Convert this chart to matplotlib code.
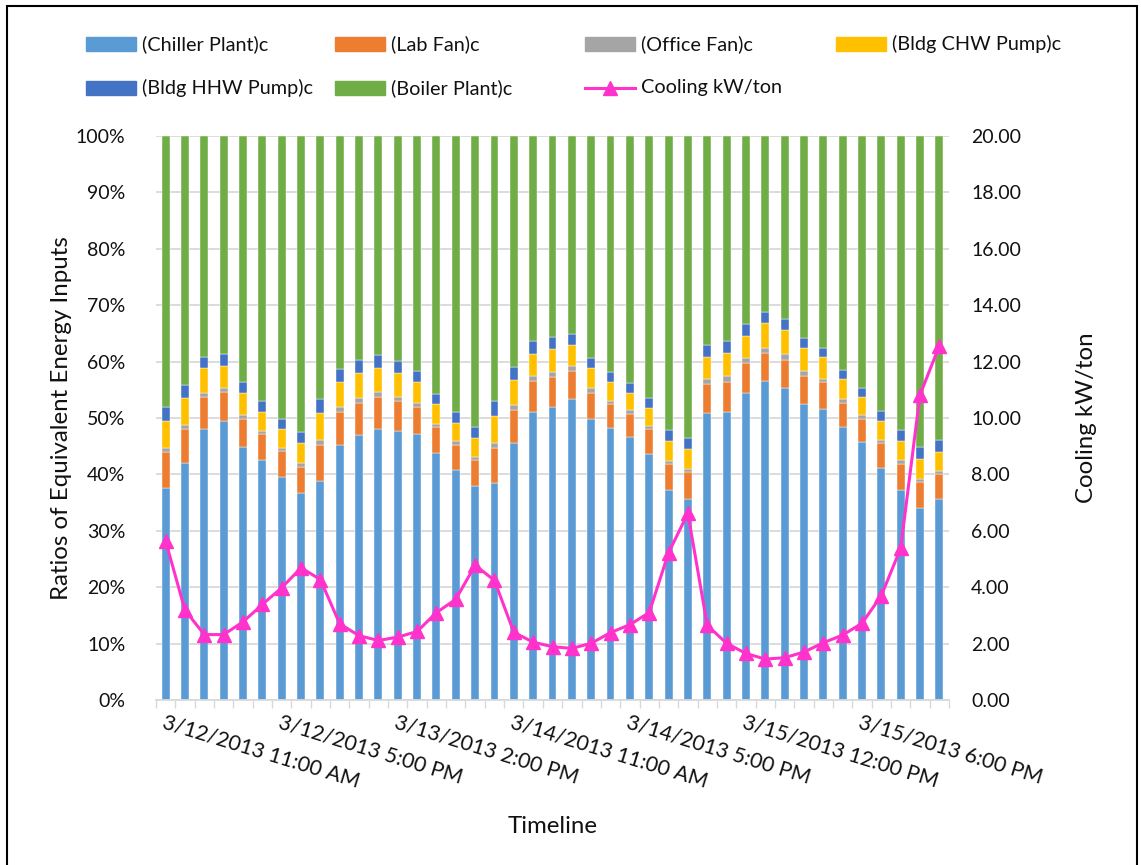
import numpy as np
import matplotlib
matplotlib.use("Agg")
import matplotlib.pyplot as plt
from matplotlib.patches import Rectangle
from matplotlib.lines import Line2D

plt.rcParams['font.family'] = ['Lato', 'DejaVu Sans']

# shares of equivalent energy inputs (%) per hourly interval
chiller = [37.6, 42.0, 48.0, 49.4, 44.9, 42.5, 39.5, 36.7, 38.9, 45.2, 47.0, 48.0, 47.7, 47.1,
           43.8, 40.8, 37.9, 38.4, 45.6, 51.1, 52.0, 53.4, 49.8, 48.2, 46.6, 43.6, 37.3, 35.7,
           50.8, 51.0, 54.4, 56.6, 55.4, 52.4, 51.6, 48.4, 45.7, 41.1, 37.3, 34.0, 35.7]
lab_fan = [6.3, 6.0, 5.7, 5.2, 5.0, 4.6, 4.6, 4.7, 6.4, 5.8, 5.7, 5.7, 5.3, 4.9,
           4.6, 4.5, 4.6, 6.3, 5.8, 5.4, 5.3, 4.9, 4.6, 4.2, 4.1, 4.4, 4.6, 4.7,
           5.2, 5.4, 5.3, 4.9, 4.9, 5.0, 4.7, 4.3, 4.2, 4.5, 4.6, 4.7, 4.4]
office_fan = [0.8, 0.8, 0.8, 0.8, 0.7, 0.6, 0.5, 0.6, 0.8, 0.9, 0.9, 0.9, 0.8, 0.7,
              0.6, 0.6, 0.5, 0.9, 0.9, 0.9, 0.9, 0.9, 0.9, 0.7, 0.7, 0.5, 0.5, 0.5,
              0.9, 1.0, 0.9, 1.0, 1.0, 0.9, 0.7, 0.7, 0.6, 0.5, 0.6, 0.5, 0.5]
chw_pump = [4.7, 4.7, 4.3, 3.9, 3.8, 3.4, 3.5, 3.5, 4.7, 4.4, 4.3, 4.3, 4.2, 3.6,
            3.4, 3.3, 3.5, 4.8, 4.4, 4.0, 4.0, 3.7, 3.5, 3.3, 3.1, 3.3, 3.5, 3.6,
            4.0, 4.1, 3.9, 4.3, 4.3, 4.1, 3.9, 3.5, 3.2, 3.4, 3.4, 3.5, 3.4]
hhw_pump = [2.5, 2.4, 2.1, 2.1, 2.0, 1.9, 1.8, 2.0, 2.6, 2.4, 2.3, 2.3, 2.1, 2.0,
            1.8, 1.9, 1.9, 2.6, 2.4, 2.2, 2.1, 2.0, 1.9, 1.7, 1.7, 1.7, 1.9, 1.9,
            2.1, 2.2, 2.1, 2.0, 1.9, 1.8, 1.6, 1.6, 1.7, 1.7, 1.9, 2.2, 2.1]
boiler = [48.1, 44.1, 39.1, 38.6, 43.6, 47.0, 50.1, 52.5, 46.6, 41.3, 39.8, 38.8, 39.9, 41.7,
          45.8, 48.9, 51.6, 47.0, 40.9, 36.4, 35.7, 35.1, 39.3, 41.9, 43.8, 46.5, 52.2, 53.6,
          37.0, 36.3, 33.4, 31.2, 32.5, 35.8, 37.5, 41.5, 44.6, 48.8, 52.2, 55.1, 53.9]

cooling_kw_ton = [5.63, 3.18, 2.32, 2.32, 2.77, 3.39, 3.98, 4.69, 4.27, 2.70, 2.28, 2.11, 2.23, 2.43,
                  3.10, 3.57, 4.78, 4.24, 2.40, 2.05, 1.89, 1.83, 2.01, 2.39, 2.67, 3.10, 5.22, 6.62,
                  2.65, 2.01, 1.65, 1.45, 1.50, 1.70, 2.03, 2.30, 2.72, 3.70, 5.38, 10.82, 12.56]

tick_labels = ["3/12/2013 11:00 AM", "3/12/2013 5:00 PM", "3/13/2013 2:00 PM",
               "3/14/2013 11:00 AM", "3/14/2013 5:00 PM", "3/15/2013 12:00 PM",
               "3/15/2013 6:00 PM"]
tick_every = 6

series = [("(Chiller Plant)c", chiller, "#5B9BD5"),
          ("(Lab Fan)c", lab_fan, "#ED7D31"),
          ("(Office Fan)c", office_fan, "#A5A5A5"),
          ("(Bldg CHW Pump)c", chw_pump, "#FFC000"),
          ("(Bldg HHW Pump)c", hhw_pump, "#4472C4"),
          ("(Boiler Plant)c", boiler, "#70AD47")]
line_color = "#FF33CC"
grid_color = "#D9D9D9"
text_color = "#111111"

W, H = 1141, 865
fig = plt.figure(figsize=(W / 100, H / 100), dpi=100)
ax = fig.add_axes([156 / W, 1 - 700 / H, (949 - 156) / W, (700 - 136) / H])

x = np.arange(len(chiller))
bottom = np.zeros(len(x))
for name, vals, color in series:
    vals = np.array(vals) / 100.0
    ax.bar(x, vals, width=0.41, bottom=bottom, color=color, edgecolor="white",
           linewidth=0.3, zorder=2)
    bottom += vals

ax.set_xlim(-0.5, len(x) - 0.5)
ax.set_ylim(0, 1)
ax.set_yticks(np.arange(0, 1.01, 0.1))
ax.set_yticklabels(["%d%%" % round(v * 100) for v in np.arange(0, 1.01, 0.1)])
ax.yaxis.grid(True, color=grid_color, linewidth=1.3, zorder=0)
ax.set_axisbelow(True)
for s in ["top", "left", "right"]:
    ax.spines[s].set_visible(False)
ax.spines["bottom"].set_color(grid_color)
ax.spines["bottom"].set_linewidth(1.3)
ax.tick_params(axis="y", length=0, pad=22, labelsize=14, labelcolor=text_color)

# category boundary ticks + rotated date labels
ax.set_xticks(np.arange(-0.5, len(x)), minor=True)
ax.tick_params(axis="x", which="minor", length=6, width=1, color=grid_color)
ax.set_xticks(x[::tick_every])
ax.set_xticklabels(tick_labels, rotation=-17, ha="left", va="top",
                   rotation_mode="anchor", fontsize=15.3, color=text_color)
ax.tick_params(axis="x", which="major", length=0, pad=9)

ax.set_ylabel("Ratios of Equivalent Energy Inputs", fontsize=17.3, color=text_color)
ax.yaxis.set_label_coords(-0.106, 0.5)
ax.set_xlabel("Timeline", fontsize=17.3, color=text_color)
ax.xaxis.set_label_coords(0.5, -0.205)

ax2 = ax.twinx()
ax2.plot(x, cooling_kw_ton, color=line_color, linewidth=2.2, marker="^",
         markersize=10, zorder=5)
ax2.set_ylim(0, 20)
ax2.set_yticks(np.arange(0, 20.1, 2))
ax2.set_yticklabels(["%.2f" % v for v in np.arange(0, 20.1, 2)])
for s in ax2.spines.values():
    s.set_visible(False)
ax2.tick_params(axis="y", length=0, pad=16, labelsize=14, labelcolor=text_color)
ax2.set_ylabel("Cooling kW/ton", fontsize=17.3, color=text_color)
ax2.yaxis.set_label_coords(1.16, 0.5)

# legend laid out as a fixed grid, row by row
legend_items = [(n, c) for n, _, c in series] + [("Cooling kW/ton", None)]
col_x = [86, 335, 585, 836]
row_y = [44, 88]
for i, (name, color) in enumerate(legend_items):
    cx = col_x[i % 4]
    cy = row_y[i // 4]
    if color is not None:
        fig.add_artist(Rectangle((cx / W, 1 - (cy + 7) / H), 50 / W, 14 / H,
                                 transform=fig.transFigure, color=color))
    else:
        fig.add_artist(Line2D([cx / W, (cx + 50) / W], [1 - cy / H, 1 - cy / H],
                              transform=fig.transFigure, color=line_color, linewidth=2.2))
        fig.add_artist(Line2D([(cx + 25) / W], [1 - cy / H], transform=fig.transFigure,
                              color=line_color, marker="^", markersize=10))
    fig.text((cx + 56) / W, 1 - cy / H, name, fontsize=14.3, color=text_color,
             va="center", ha="left")

# outer frame
fig.add_artist(Rectangle((7 / W, -0.01), (1137 - 7) / W, 1 - 6 / H + 0.01,
                         transform=fig.transFigure, fill=False, edgecolor="black",
                         linewidth=1.5))

fig.savefig("out.png", dpi=100)
